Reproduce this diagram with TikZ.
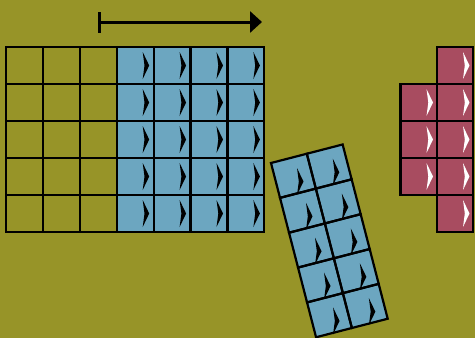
\documentclass[tikz,border=0pt]{standalone}
\usetikzlibrary{arrows.meta}
\definecolor{field}{HTML}{979428}
\definecolor{tileblue}{HTML}{6CA6C0}
\definecolor{tilered}{HTML}{A84C60}

\begin{document}
\begin{tikzpicture}[x=1pt, y=-1pt,
    tile/.style={fill=#1},
    edge/.style={draw=black, line width=2.2pt, line join=miter},
    pics/cellmark/.style={code={\fill[#1] (26,5) -- (32.5,18.5) -- (26,32) -- (27.8,18.5) -- cycle;}},
    run/.style={line width=3pt, {Bar[width=21pt]}-{Triangle[length=12pt, width=21pt]}},
]

% Background
\fill[field] (0,0) rectangle (475,338);
\useasboundingbox (0,0) rectangle (475,338);

% Direction arrow
\coordinate (runstart) at (98,22);
\coordinate (runend) at (262,22);
\draw[run] (runstart) -- (runend);

% Main grid: filled columns
\foreach \c in {3,...,6}
  \foreach \r in {0,...,4} {
    \fill[tile=tileblue] ({6+36.9*\c},{47+37*\r}) rectangle +(36.9,37);
    \pic at ({6+36.9*\c},{47+37*\r}) {cellmark=black};
  }
% Main grid: lines
\foreach \c in {0,...,6}
  \foreach \r in {0,...,4}
    \draw[edge] ({6+36.9*\c},{47+37*\r}) rectangle +(36.9,37);

% Tilted block
\begin{scope}[shift={(271,163)}, rotate=14.5]
\foreach \c in {0,1}
  \foreach \r in {0,...,4} {
    \fill[tile=tileblue] ({37*\c},{36*\r}) rectangle +(37,36);
    \pic at ({37*\c},{36*\r}) {cellmark=black};
  }
\foreach \c in {0,1}
  \foreach \r in {0,...,4}
    \draw[edge] ({37*\c},{36*\r}) rectangle +(37,36);
\end{scope}

% Red block
\foreach \r in {0,...,4} {
  \fill[tile=tilered] (437,{47+37*\r}) rectangle +(36,37);
  \pic at (437,{47+37*\r}) {cellmark=white};
}
\foreach \r in {1,2,3} {
  \fill[tile=tilered] (400.5,{47+37*\r}) rectangle +(36.5,37);
  \pic at (400.5,{47+37*\r}) {cellmark=white};
}
\foreach \r in {0,...,4}
  \draw[edge] (437,{47+37*\r}) rectangle +(36,37);
\foreach \r in {1,2,3}
  \draw[edge] (400.5,{47+37*\r}) rectangle +(36.5,37);

\end{tikzpicture}
\end{document}
